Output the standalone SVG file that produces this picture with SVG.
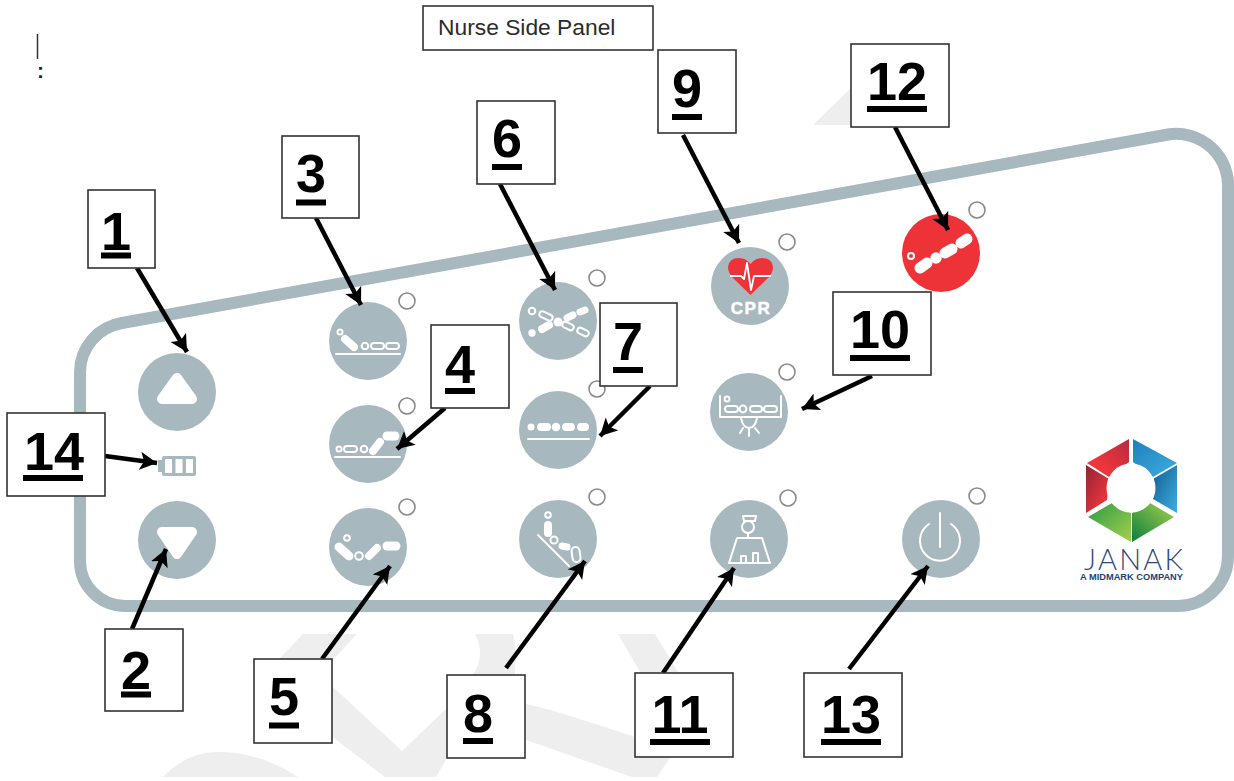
<svg xmlns="http://www.w3.org/2000/svg" width="1234" height="781" viewBox="0 0 1234 781">
<style>
.wm{fill:#eeeeee}
.panel{fill:none;stroke:#a7b8bf;stroke-width:12}
.btn{fill:#a7b8bf}
.led{fill:#fff;stroke:#8a8a8a;stroke-width:1.6}
.box{fill:#fff;stroke:#333;stroke-width:1.6}
.num{font-family:"Liberation Sans",Arial,sans-serif;font-weight:700;font-size:54px;fill:#000;text-anchor:middle}
.ul{fill:#000}
.arr{fill:none;stroke:#000;stroke-width:4.5;marker-end:url(#ah)}
.f{fill:none;stroke:#fff;stroke-linecap:round}
.o{fill:none;stroke:#fff;stroke-width:2}
.l{fill:none;stroke:#fff;stroke-width:2;stroke-linecap:round;stroke-linejoin:round}
.tri{fill:#fff;stroke:#fff;stroke-width:10;stroke-linejoin:round}
</style>
<defs>
<marker id="ah" markerUnits="userSpaceOnUse" markerWidth="20" markerHeight="20" refX="17" refY="9" orient="auto"><path d="M0,0 L17,9 L0,18 L4,9 Z" fill="#000"/></marker>
<linearGradient id="r1" x1="0" y1="1" x2="1" y2="0"><stop offset="0.300" stop-color="#f0363b"/><stop offset="1" stop-color="#b52b3c"/></linearGradient>
<linearGradient id="r2" x1="0" y1="0" x2="1" y2="1"><stop offset="0" stop-color="#8f2638"/><stop offset="0.800" stop-color="#ee3338"/></linearGradient>
<linearGradient id="b1" x1="0" y1="0" x2="1" y2="1"><stop offset="0" stop-color="#1f7fbc"/><stop offset="1" stop-color="#3eaee0"/></linearGradient>
<linearGradient id="b2" x1="0" y1="0" x2="1" y2="1"><stop offset="0" stop-color="#125d92"/><stop offset="1" stop-color="#3eaee0"/></linearGradient>
<linearGradient id="g1" x1="0" y1="0" x2="1" y2="1"><stop offset="0" stop-color="#2d9a45"/><stop offset="1" stop-color="#a5d04d"/></linearGradient>
<linearGradient id="g2" x1="0" y1="1" x2="1" y2="0"><stop offset="0" stop-color="#0d7f3e"/><stop offset="1" stop-color="#a5d04d"/></linearGradient>
</defs>

<g id="watermark">
<polygon class="wm" points="813,125 851,88 851,125"/>
<polygon class="wm" points="303,634 357,634 333,660 333,700 290,700 280,658"/>
<polygon class="wm" points="320,670 333,687 402,751 447,708 447,758 436,777 385,777 330,735 300,700"/>
<path class="wm" d="M475,634 Q485,652 475,672 L447,708 L447,740 L515,700 L515,668 Q517,650 513,634 Z"/>
<path class="wm" d="M163,777 Q187,752 217,752 Q260,752 298,777 Z"/>
<path class="wm" d="M618,634 L655,634 L678,672 L690,700 L680,750 L650,740 L640,672 Z"/>
<path class="wm" d="M526,704 Q545,707 635,737 L670,758 L657,777 L632,777 L526,740 Z"/>
</g>

<g id="panel"><path class="panel" d="M80,385 L80,372 A50,50 0 0 1 122,323 L1168,134.500 A52,52 0 0 1 1228,190 L1228,556 A50,50 0 0 1 1178,606 L125,606 A45,45 0 0 1 80,561 Z"/></g>

<g id="btn-up"><circle class="btn" cx="177" cy="392" r="39"/><polygon class="tri" points="177,378 162,399 192,399"/></g>
<g id="btn-down"><circle class="btn" cx="177" cy="540" r="39"/><polygon class="tri" points="162,532 192,532 177,554"/></g>

<g id="battery"><rect x="158" y="460" width="5" height="12" fill="#a7b8bf"/><rect x="162" y="456" width="34" height="20" rx="2" fill="#a7b8bf"/><rect x="165" y="459" width="7" height="14" fill="#fff"/><rect x="175.500" y="459" width="7" height="14" fill="#fff"/><rect x="186" y="459" width="7" height="14" fill="#fff"/></g>

<g id="btn-3"><circle class="btn" cx="368" cy="341" r="39"/><circle class="led" cx="407" cy="301" r="8"/>
<circle class="o" cx="340" cy="332" r="2.500"/><path class="f" stroke-width="8" d="M345,339 L354,347"/><circle class="o" cx="365" cy="346" r="3.300"/><rect class="o" x="371" y="343" width="13" height="6" rx="3"/><rect class="o" x="386" y="343" width="13" height="6" rx="3"/><path class="l" d="M336,354 H400"/></g>

<g id="btn-4"><circle class="btn" cx="368" cy="444" r="39"/><circle class="led" cx="407" cy="406" r="8"/>
<circle class="o" cx="339" cy="449" r="2.500"/><rect class="o" x="344" y="446" width="13" height="6" rx="3"/><circle class="o" cx="364" cy="449" r="3.300"/><path class="f" stroke-width="8" d="M373,451 L380,442"/><path class="f" stroke-width="9" d="M387,436 H395"/><path class="l" d="M335,457 H400"/></g>

<g id="btn-5"><circle class="btn" cx="368" cy="547" r="39"/><circle class="led" cx="407" cy="507" r="8"/>
<circle class="o" cx="347" cy="538" r="2.800"/><path class="f" stroke-width="9" d="M339,547 L349,556"/><circle class="o" cx="359" cy="556" r="3.800"/><path class="f" stroke-width="8" d="M369,556 L377,548"/><path class="f" stroke-width="9" d="M387,546 H396"/></g>

<g id="btn-6"><circle class="btn" cx="558" cy="321" r="39"/><circle class="led" cx="597" cy="278" r="8"/>
<circle fill="#fff" cx="532" cy="333" r="3.700"/><path class="f" stroke-width="8" d="M542,329 L549,325"/><circle fill="#fff" cx="558" cy="322" r="4.500"/><path class="f" stroke-width="7" d="M567,318 L573,315"/><path class="f" stroke-width="7" d="M580,312 L585,310"/>
<circle class="o" cx="532" cy="311" r="3.300"/><rect class="o" x="539" y="313" width="14" height="6" rx="3" transform="rotate(25 546 316)"/><rect class="o" x="562" y="323" width="12" height="6" rx="3" transform="rotate(25 568 326)"/><rect class="o" x="577" y="329" width="12" height="6" rx="3" transform="rotate(25 583 332)"/></g>

<g id="btn-7"><circle class="btn" cx="558" cy="430" r="39"/><circle class="led" cx="597" cy="389" r="8"/>
<circle fill="#fff" cx="531" cy="427" r="3.500"/><path class="f" stroke-width="8" d="M541,427 H547"/><circle fill="#fff" cx="556" cy="427" r="4.300"/><path class="f" stroke-width="8" d="M566,427 H571"/><path class="f" stroke-width="8" d="M581,427 H585"/><path class="l" d="M528,439 H589"/></g>

<g id="btn-8"><circle class="btn" cx="558" cy="539" r="39"/><circle class="led" cx="597" cy="497" r="8"/>
<circle class="o" cx="548" cy="515" r="2.800"/><path class="f" stroke-width="8" d="M548,525 V533"/><circle class="o" cx="554" cy="540" r="3.600"/><path class="f" stroke-width="7" d="M562,546 L567,547"/><rect class="o" x="572" y="547" width="8" height="15" rx="4" transform="rotate(-8 576 554)"/><path class="l" stroke-width="1.500" d="M538,535 L569,566"/></g>

<g id="btn-9"><circle class="btn" cx="750" cy="286" r="39"/><circle class="led" cx="787" cy="242" r="8"/>
<path fill="#ee3338" d="M750.500,295 L732,277 Q728,272 728,267 Q729,258 739,258 Q746,258 750.500,264 Q755,258 762,258 Q772,258 773,267 Q773,272 769,277 Z"/>
<path fill="none" stroke="#fff" stroke-width="1.800" stroke-linejoin="round" d="M730,276 H741 L744,279 L747,263 L751,290 L754,276 H771"/>
<text x="751" y="314" font-family="'Liberation Sans',Arial,sans-serif" font-weight="700" font-size="17" fill="#fff" stroke="#fff" stroke-width="0.500" text-anchor="middle" letter-spacing="1.500">CPR</text></g>

<g id="btn-10"><circle class="btn" cx="749" cy="412" r="39"/><circle class="led" cx="787" cy="372" r="8"/>
<path class="l" d="M720,396 V417 H781 V396"/><circle class="o" cx="727" cy="399" r="2.400"/><rect class="o" x="725" y="406" width="13" height="6" rx="3"/><circle class="o" cx="743" cy="409" r="3.400"/><rect class="o" x="750" y="406" width="12" height="6" rx="3"/><rect class="o" x="764" y="406" width="13" height="6" rx="3"/>
<path class="l" d="M741,418 Q743,428 749,428 Q755,428 757,418 M749,428 V436 M743,428 L740,433 M755,428 L759,433"/></g>

<g id="btn-11"><circle class="btn" cx="749" cy="539" r="39"/><circle class="led" cx="788" cy="498" r="8"/>
<circle class="o" cx="748" cy="527" r="6"/><path class="l" d="M743,516 H756 L755,521 H744 Z"/><path class="l" d="M748,533 V538 H762 L770,563 H729 L737,538 H748"/><path class="l" d="M741,563 V556 H746 V563 M753,563 V553 H758 V563"/></g>

<g id="btn-12"><circle cx="941" cy="253" r="39" fill="#ee3338"/><circle class="led" cx="977" cy="210" r="8"/>
<circle class="o" cx="911" cy="256" r="3"/><path class="f" stroke-width="11" d="M920,268 L927,263"/><circle fill="#fff" cx="936" cy="258" r="5.700"/><path class="f" stroke-width="11" d="M945,253 L952,249"/><path class="f" stroke-width="11" d="M961,243 L967,239"/></g>

<g id="btn-13"><circle class="btn" cx="941" cy="539" r="39"/><circle class="led" cx="977" cy="496" r="8"/>
<path class="l" stroke-width="2.200" d="M929,524 A20,20 0 1 0 951,524 M940,513 V547"/></g>

<g id="logo">
<polygon fill="url(#r1)" points="1129,439 1129,462 1109,477 1087,463"/>
<polygon fill="url(#r2)" points="1086,465 1109,479 1107,500 1086,513"/>
<polygon fill="url(#b1)" points="1133,439 1177,463 1153,477 1133,462"/>
<polygon fill="url(#b2)" points="1177,465 1177,513 1153,499 1153,479"/>
<polygon fill="url(#g1)" points="1088,517 1112,503 1131,513 1131,542"/>
<polygon fill="url(#g2)" points="1132,513 1150,503 1174,517 1132,542"/>
<circle cx="1131" cy="488" r="24.500" fill="#fff"/>
<text x="1084" y="570" textLength="99" lengthAdjust="spacing" font-family="Lato,'Liberation Sans',sans-serif" font-weight="300" font-size="29" fill="#2f4a78">JANAK</text>
<text x="1080" y="580" textLength="103" lengthAdjust="spacingAndGlyphs" font-family="'Liberation Sans',Arial,sans-serif" font-weight="700" font-size="9.500" fill="#1f3f73">A MIDMARK COMPANY</text>
</g>

<g id="caption"><rect class="box" x="423" y="6" width="230" height="44"/><text x="438" y="35" font-family="'Liberation Sans',Arial,sans-serif" font-size="22.800" fill="#2b2b2b">Nurse Side Panel</text></g>
<g id="marks"><path d="M37.500,34 V59" stroke="#333" stroke-width="1.500"/><text x="37" y="78" font-family="'Liberation Sans',Arial,sans-serif" font-weight="700" font-size="21" fill="#222">:</text></g>

<g id="connectors">
<path class="arr" d="M137,268 L187,352"/>
<path class="arr" d="M132,629 L166,549"/>
<path class="arr" d="M316,218 L361,305"/>
<path class="arr" d="M445,408 L397,449"/>
<path class="arr" d="M322,659 L390,566"/>
<path class="arr" d="M500,184 L555,290"/>
<path class="arr" d="M650,386 L600,436"/>
<path class="arr" d="M506,668 L585,561"/>
<path class="arr" d="M683,135 L739,243"/>
<path class="arr" d="M872,376 L802,409"/>
<path class="arr" d="M663,673 L734,568"/>
<path class="arr" d="M895,127 L948,230"/>
<path class="arr" d="M849,669 L928,566"/>
<path class="arr" d="M105,456 L157,463"/>
</g>

<g id="label-1"><rect class="box" x="88" y="190" width="67" height="78"/><text class="num" x="116" y="250">1</text><rect class="ul" x="101" y="252.500" width="30" height="6"/></g>
<g id="label-2"><rect class="box" x="105" y="629" width="78" height="82"/><text class="num" x="136" y="689">2</text><rect class="ul" x="121" y="691.500" width="30" height="6"/></g>
<g id="label-3"><rect class="box" x="282" y="136" width="77" height="82"/><text class="num" x="311" y="192">3</text><rect class="ul" x="296" y="199.500" width="30" height="6"/></g>
<g id="label-4"><rect class="box" x="431" y="325" width="78" height="83"/><text class="num" x="460" y="383">4</text><rect class="ul" x="445" y="388" width="30" height="6"/></g>
<g id="label-5"><rect class="box" x="254" y="659" width="78" height="84"/><text class="num" x="284" y="715">5</text><rect class="ul" x="269" y="722.500" width="30" height="6"/></g>
<g id="label-6"><rect class="box" x="477" y="101" width="78" height="83"/><text class="num" x="507" y="157">6</text><rect class="ul" x="492" y="164" width="30" height="6"/></g>
<g id="label-7"><rect class="box" x="600" y="303" width="77" height="83"/><text class="num" x="628" y="360">7</text><rect class="ul" x="613" y="367" width="30" height="6"/></g>
<g id="label-8"><rect class="box" x="447" y="675" width="78" height="83"/><text class="num" x="478" y="732">8</text><rect class="ul" x="463" y="738" width="30" height="6"/></g>
<g id="label-9"><rect class="box" x="658" y="50" width="78" height="83"/><text class="num" x="687" y="107">9</text><rect class="ul" x="672" y="114" width="30" height="6"/></g>
<g id="label-10"><rect class="box" x="833" y="292" width="98" height="83"/><text class="num" x="880" y="348">10</text><rect class="ul" x="850" y="355" width="60" height="6"/></g>
<g id="label-11"><rect class="box" x="635" y="673" width="98" height="84"/><text class="num" x="680" y="733">11</text><rect class="ul" x="650" y="739" width="60" height="6"/></g>
<g id="label-12"><rect class="box" x="851" y="44" width="98" height="83"/><text class="num" x="897" y="100">12</text><rect class="ul" x="867" y="106" width="60" height="6"/></g>
<g id="label-13"><rect class="box" x="804" y="673" width="98" height="84"/><text class="num" x="851" y="733">13</text><rect class="ul" x="821" y="739" width="60" height="6"/></g>
<g id="label-14"><rect class="box" x="7" y="413" width="98" height="83"/><text class="num" x="54" y="470">14</text><rect class="ul" x="23" y="475" width="60" height="6"/></g>
</svg>
